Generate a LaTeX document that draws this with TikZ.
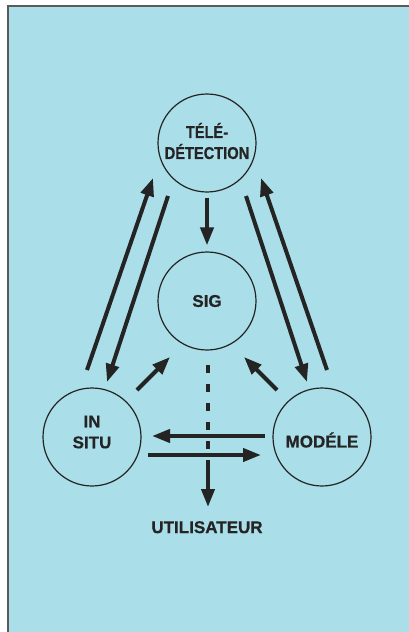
\documentclass[tikz,border=0pt]{standalone}
\usepackage{fontspec}
\usepackage{graphicx}
\setmainfont{Liberation Sans}
\newfontfamily\heavy{Liberation Sans Bold}[FakeBold=0.6]
\usetikzlibrary{arrows.meta}
\definecolor{panel}{RGB}{170,222,233}
\definecolor{ink}{RGB}{36,36,36}
\definecolor{rim}{RGB}{90,90,90}
\newcommand{\narrow}[1]{\scalebox{0.86}[1]{#1}}
\tikzset{
  bubble/.style={circle, draw=ink, line width=1.2pt, minimum size=98pt, inner sep=0pt,
    align=center, font=\fontsize{17}{21}\selectfont\heavy, text=ink},
  label/.style={inner sep=0pt, font=\fontsize{17}{21}\selectfont\heavy, text=ink},
  flow/.style={draw=ink, line width=4pt, -{Triangle[length=18pt,width=13pt]}},
  dotline/.style={draw=ink, line width=4pt, dash pattern=on 8pt off 11pt},
}
\begin{document}
\begin{tikzpicture}[x=1pt,y=-1pt]
\useasboundingbox (0,0) rectangle (409,632);
\fill[white] (0,0) rectangle (409,632);
\fill[panel] (7,5) rectangle (409,632);
\draw[rim, line width=1.8pt] (7.9,632) -- (7.9,5.9) -- (409,5.9);

% the four stations
\node[bubble] (tele) at (207,143) {};
\node[label, align=center] (teletext) at (207,141) {\narrow{TÉLÉ-}\\\narrow{DÉTECTION}};
\node[bubble] (sig)  at (207,301) {SIG};
\node[bubble] (insitu) at (92,437) {};
\node[label, align=center] (insitutext) at (92,432) {IN\\SITU};
\node[bubble] (modele) at (322,437) {};
\node[label] (modeletext) at (322,440) {MODÉLE};
\node[label, anchor=north] (user) at (207,521) {UTILISATEUR};

% end points of the connectors
\coordinate (lu0) at (87,370);  \coordinate (lu1) at (153,178);
\coordinate (ld0) at (168,196); \coordinate (ld1) at (107,382);
\coordinate (ru0) at (327,370); \coordinate (ru1) at (261,178);
\coordinate (rd0) at (246,196); \coordinate (rd1) at (307,382);
\coordinate (ls0) at (137,390); \coordinate (ls1) at (170,357);
\coordinate (ms0) at (277,390); \coordinate (ms1) at (244,357);
\coordinate (h10) at (265,436); \coordinate (h11) at (152,436);
\coordinate (h20) at (148,455); \coordinate (h21) at (261,455);
\coordinate (v0) at (208,365);  \coordinate (v1) at (208,460);

% links between the stations
\draw[flow] (tele.south) ++(0,5) -- ([yshift=6pt]sig.north);
\draw[flow] (lu0) -- (lu1);
\draw[flow] (ld0) -- (ld1);
\draw[flow] (ru0) -- (ru1);
\draw[flow] (rd0) -- (rd1);
\draw[flow] (ls0) -- (ls1);
\draw[flow] (ms0) -- (ms1);
\draw[flow] (h10) -- (h11);
\draw[flow] (h20) -- (h21);

% output towards the user
\draw[dotline] (v0) -- (208,450);
\draw[flow] (v1) -- ([xshift=1pt,yshift=14pt]user.north);
\end{tikzpicture}
\end{document}
